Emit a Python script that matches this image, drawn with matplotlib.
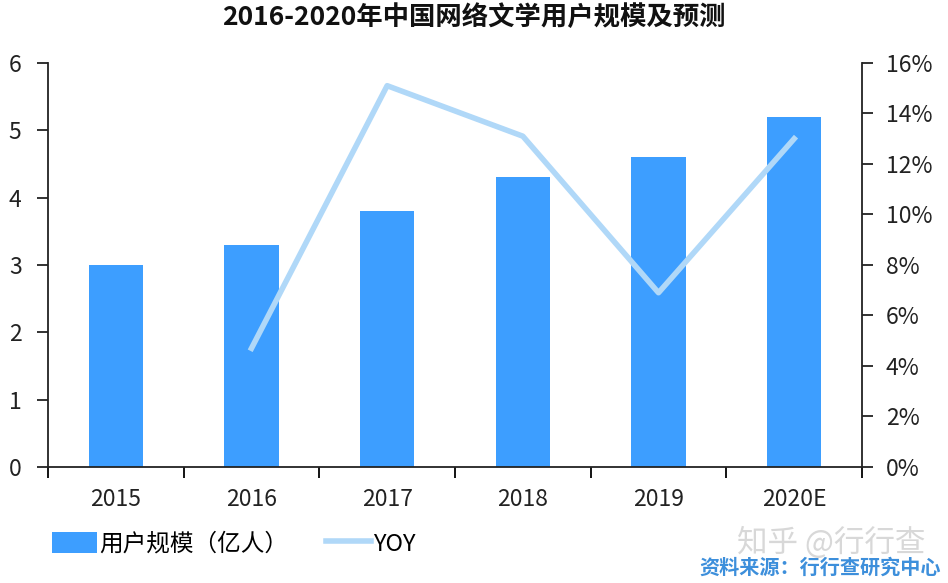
import matplotlib.pyplot as plt
import numpy as np
from matplotlib.ticker import FixedLocator, FuncFormatter

plt.rcParams['font.family'] = ['Noto Sans CJK SC', 'DejaVu Sans']

years = ['2015', '2016', '2017', '2018', '2019', '2020E']
users = [3.0, 3.3, 3.8, 4.3, 4.6, 5.2]
yoy_years = ['2016', '2017', '2018', '2019', '2020E']
yoy = [4.7, 15.1, 13.1, 6.9, 13.0]

bar_color = '#3D9EFF'
line_color = '#B0D8F8'

fig = plt.figure(figsize=(9.48, 5.83), dpi=100)
ax = fig.add_axes([0.0506, 0.199, 0.8587, 0.693])
x = np.arange(len(years))
bars = ax.bar(x, users, width=0.4, color=bar_color, label='用户规模（亿人）', zorder=2)
ax.set_xlim(-0.5, len(years) - 0.5)
ax.set_ylim(0, 6)
ax.set_yticks(range(0, 7))
ax.set_xticks(x)
ax.set_xticklabels(years)
ax.xaxis.set_minor_locator(FixedLocator(np.arange(-0.5, len(years), 1.0)))
ax.tick_params(axis='x', which='major', length=0, pad=15, labelsize=16.5, colors='#222222')
ax.tick_params(axis='x', which='minor', length=8, width=1.3, direction='out')
ax.tick_params(axis='y', length=8, width=1.3, direction='out', labelsize=16.5, pad=11, colors='#222222')
ax.spines['top'].set_visible(False)
ax.spines['right'].set_visible(False)
for s in ['left', 'bottom']:
    ax.spines[s].set_linewidth(1.3)
    ax.spines[s].set_color('#222222')

ax2 = ax.twinx()
xi = [years.index(y) for y in yoy_years]
line, = ax2.plot(xi, yoy, color=line_color, lw=4, label='YOY', zorder=3)
ax2.set_ylim(0, 16)
ax2.set_yticks(range(0, 17, 2))
ax2.yaxis.set_major_formatter(FuncFormatter(lambda v, p: f'{int(v)}%'))
ax2.tick_params(axis='y', length=8, width=1.3, direction='out', labelsize=16.5, pad=9, colors='#222222')
ax2.spines['top'].set_visible(False)
ax2.spines['left'].set_visible(False)
ax2.spines['bottom'].set_visible(False)
ax2.spines['right'].set_linewidth(1.3)
ax2.spines['right'].set_color('#222222')

fig.text(0.5, 0.97, '2016-2020年中国网络文学用户规模及预测', ha='center', va='center',
         fontsize=19, fontweight='bold', color='#111111')

fig.legend([bars, line], ['用户规模（亿人）', 'YOY'], loc='center left',
           bbox_to_anchor=(0.055, 0.067), ncol=2, frameon=False, fontsize=17,
           handlelength=1.9, handleheight=1.0, columnspacing=1.6, handletextpad=0.1,
           borderaxespad=0, borderpad=0)

fig.text(0.976, 0.068, '知乎 @行行查', ha='right', va='center', fontsize=22, color='#d8d8d8')
fig.text(0.992, 0.027, '资料来源：行行查研究中心', ha='right', va='center', fontsize=14.5,
         fontweight='bold', color='#3D8FDB')

fig.savefig('out.png', dpi=100)
